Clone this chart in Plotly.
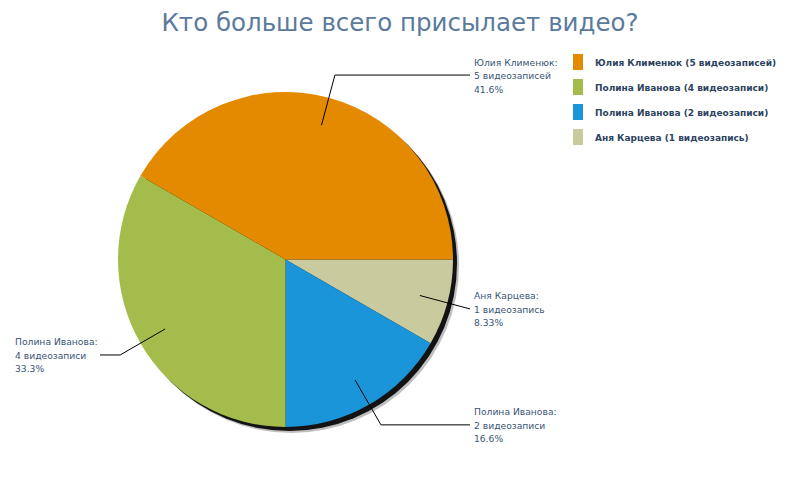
import math
import plotly.graph_objects as go

# data
names = ["Юлия Клименюк", "Полина Иванова", "Полина Иванова", "Аня Карцева"]
counts = [5, 4, 2, 1]
units = ["видеозаписей", "видеозаписи", "видеозаписи", "видеозапись"]
colors = ["#e38a00", "#a4bc4c", "#1b95d9", "#c9ca9e"]
title = "Кто больше всего присылает видео?"

# page body has an 8px margin, so positions below are window pixels
W, H = 784, 484
cx, cy, r = 285.5, 259.5, 167.5


def px(x):
    return (x - 8) / W


def py(y):
    return 1 - (y - 8) / H


def pct_text(v, total):
    # percentages are cut, not rounded (41.66 -> 41.6)
    p = v / total * 100
    digits = 2 - int(math.floor(math.log10(p)))
    f = 10 ** digits
    return f"{math.floor(p * f + 1e-9) / f:.{digits}f}%"


total = sum(counts)
dom_x = [px(cx - r), px(cx + r)]
dom_y = [py(cy + r), py(cy - r)]

fig = go.Figure()

# soft shadow behind the pie
for off, op in [(6, 0.25), (4, 0.9)]:
    fig.add_trace(go.Pie(values=[1], marker=dict(colors=["#000000"], line=dict(width=0)),
                         opacity=op, textinfo="none", hoverinfo="skip", showlegend=False,
                         domain=dict(x=[dom_x[0] + off / W, dom_x[1] + off / W],
                                     y=[dom_y[0] - off / H, dom_y[1] - off / H])))

# slices run counterclockwise from 3 o'clock -> feed them reversed, clockwise
fig.add_trace(go.Pie(values=counts[::-1], labels=[f"{n} {i}" for i, n in enumerate(names)][::-1],
                     marker=dict(colors=colors[::-1], line=dict(width=0)), sort=False,
                     direction="clockwise", rotation=90, textinfo="none",
                     showlegend=False, domain=dict(x=dom_x, y=dom_y)))

lab_font = dict(family="DejaVu Sans", size=9.2, color="#3a5577")
shapes = []
annotations = []
cum = 0
for n, c, u in zip(names, counts, units):
    mid = (cum + c / 2) / total * 2 * math.pi
    cum += c
    x0, y0 = cx + 0.83 * r * math.cos(mid), cy - 0.83 * r * math.sin(mid)
    x1, y1 = cx + 1.14 * r * math.cos(mid), cy - 1.14 * r * math.sin(mid)
    right = math.cos(mid) > 0
    x2 = 470 if right else 100
    shapes.append(dict(type="path", xref="paper", yref="paper",
                       path=f"M {px(x0)},{py(y0)} L {px(x1)},{py(y1)} L {px(x2)},{py(y1)}",
                       line=dict(color="#000000", width=1)))
    for k, line in enumerate([f"{n}:", f"{c} {u}", pct_text(c, total)]):
        annotations.append(dict(text=line, x=px(472) if right else px(13), y=py(y1 + 0.5 + (k - 1) * 13.5),
                                xref="paper", yref="paper", xanchor="left", yanchor="middle",
                                showarrow=False, font=lab_font))

# legend
for i, (n, c, u) in enumerate(zip(names, counts, units)):
    yc = 62 + 25 * i
    shapes.append(dict(type="rect", xref="paper", yref="paper",
                       x0=px(573), x1=px(583), y0=py(yc + 8), y1=py(yc - 8),
                       fillcolor=colors[i], line=dict(width=0)))
    annotations.append(dict(text=f"<b>{n} ({c} {u})</b>", x=px(593), y=py(yc + 1),
                            xref="paper", yref="paper", xanchor="left", yanchor="middle",
                            showarrow=False,
                            font=dict(family="DejaVu Sans", size=9, color="#2d4360")))

fig.update_layout(width=W, height=H, margin=dict(l=0, r=0, t=0, b=0),
                  paper_bgcolor="white", plot_bgcolor="white",
                  title=dict(text=title, x=px(400), xanchor="center", y=py(22), yanchor="middle",
                             font=dict(family="DejaVu Sans", size=24.5, color="#5b7a9d")),
                  shapes=shapes, annotations=annotations)

fig.write_html("out.html")
